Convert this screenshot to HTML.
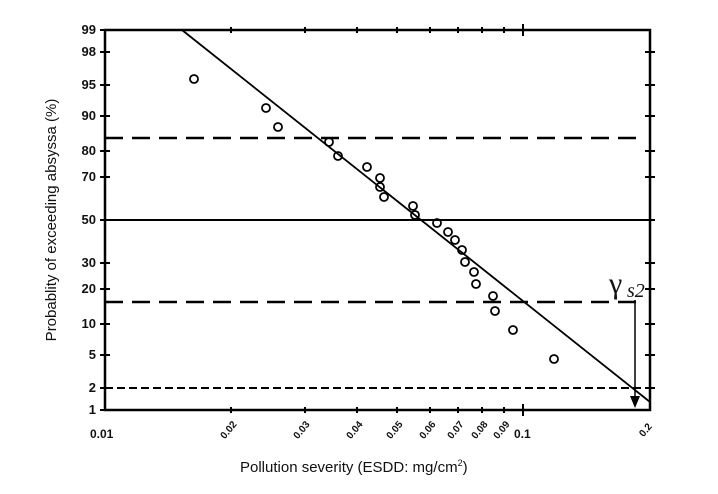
<!DOCTYPE html>
<html><head><meta charset="utf-8"><style>
html,body{margin:0;padding:0;background:#fff;width:718px;height:494px;overflow:hidden}
svg{display:block}
text{font-family:"Liberation Sans",sans-serif;fill:#111}
</style></head><body>
<svg width="718" height="494" viewBox="0 0 718 494" xmlns="http://www.w3.org/2000/svg">
<g stroke="#000" fill="none">
<rect x="105" y="30" width="545" height="380" stroke-width="2.5"/>
<line x1="105" y1="220" x2="650" y2="220" stroke-width="2"/>
<line x1="105" y1="138" x2="645" y2="138" stroke-width="2.5" stroke-dasharray="18,9"/>
<line x1="105" y1="302" x2="645" y2="302" stroke-width="2.5" stroke-dasharray="18,9"/>
<line x1="105" y1="388" x2="650" y2="388" stroke-width="2" stroke-dasharray="8,4"/>
<line x1="182" y1="30" x2="650" y2="402" stroke-width="1.8"/>
<line x1="635" y1="300" x2="635" y2="398" stroke-width="1.5"/>
<g stroke-width="2">
<path d="M100 30h10M100 52h10M100 85h10M100 116h10M100 151h10M100 177h10M100 220h10M100 263h10M100 289h10M100 324h10M100 355h10M100 388h10M100 410h10"/>
<path d="M645 52h10M645 85h10M645 116h10M645 151h10M645 177h10M645 220h10M645 263h10M645 289h10M645 324h10M645 355h10M645 388h10"/>
<path d="M231 27v6M305 27v6M357 27v6M397 27v6M430 27v6M458 27v6M482 27v6M504 27v6M523 24v12"/>
<path d="M231 407v6M305 407v6M357 407v6M397 407v6M430 407v6M458 407v6M482 407v6M504 407v6M523 404v12"/>
</g>
<g stroke-width="1.8">
<circle cx="194" cy="79" r="4"/><circle cx="266" cy="108" r="4"/><circle cx="278" cy="127" r="4"/>
<circle cx="329" cy="142" r="4"/><circle cx="338" cy="156" r="4"/>
<circle cx="367" cy="167" r="4"/><circle cx="380" cy="178" r="4"/><circle cx="380" cy="187" r="4"/>
<circle cx="384" cy="197" r="4"/><circle cx="413" cy="206" r="4"/><circle cx="415" cy="215" r="4"/>
<circle cx="437" cy="223" r="4"/><circle cx="448" cy="232" r="4"/><circle cx="455" cy="240" r="4"/>
<circle cx="462" cy="250" r="4"/><circle cx="465" cy="262" r="4"/><circle cx="474" cy="272" r="4"/>
<circle cx="476" cy="284" r="4"/><circle cx="493" cy="296" r="4"/><circle cx="495" cy="311" r="4"/>
<circle cx="513" cy="330" r="4"/><circle cx="554" cy="359" r="4"/>
</g>
</g>
<path d="M630 396 L640 396 L635 408 Z" fill="#000"/>
<text x="609" y="293" font-size="30" style="font-family:'Liberation Serif',serif">γ</text>
<text x="627" y="297" font-size="20" font-style="italic" style="font-family:'Liberation Serif',serif">s2</text>
<g font-size="13" font-weight="bold" text-anchor="end">
<text x="96" y="34">99</text><text x="96" y="56">98</text><text x="96" y="89">95</text>
<text x="96" y="120">90</text><text x="96" y="155">80</text><text x="96" y="181">70</text>
<text x="96" y="224">50</text><text x="96" y="267">30</text><text x="96" y="293">20</text>
<text x="96" y="328">10</text><text x="96" y="359">5</text><text x="96" y="392">2</text>
<text x="96" y="414">1</text>
</g>
<g font-size="12" font-weight="bold">
<text x="90" y="438">0.01</text>
<text x="514" y="438">0.1</text>
</g>
<g font-size="10" font-weight="bold" text-anchor="middle">
<text transform="translate(231,432) rotate(-50)">0.02</text>
<text transform="translate(304,432) rotate(-50)">0.03</text>
<text transform="translate(357,432) rotate(-50)">0.04</text>
<text transform="translate(397,432) rotate(-50)">0.05</text>
<text transform="translate(430,432) rotate(-50)">0.06</text>
<text transform="translate(458,432) rotate(-50)">0.07</text>
<text transform="translate(482,432) rotate(-50)">0.08</text>
<text transform="translate(504,432) rotate(-50)">0.09</text>
<text transform="translate(648,432) rotate(-50)">0.2</text>
</g>
<text x="240" y="472" font-size="15">Pollution severity (ESDD: mg/cm<tspan font-size="9" dy="-6">2</tspan><tspan dy="6">)</tspan></text>
<text transform="translate(56,220) rotate(-90)" font-size="15" text-anchor="middle">Probablity of exceeding absyssa (%)</text>
</svg>
</body></html>
